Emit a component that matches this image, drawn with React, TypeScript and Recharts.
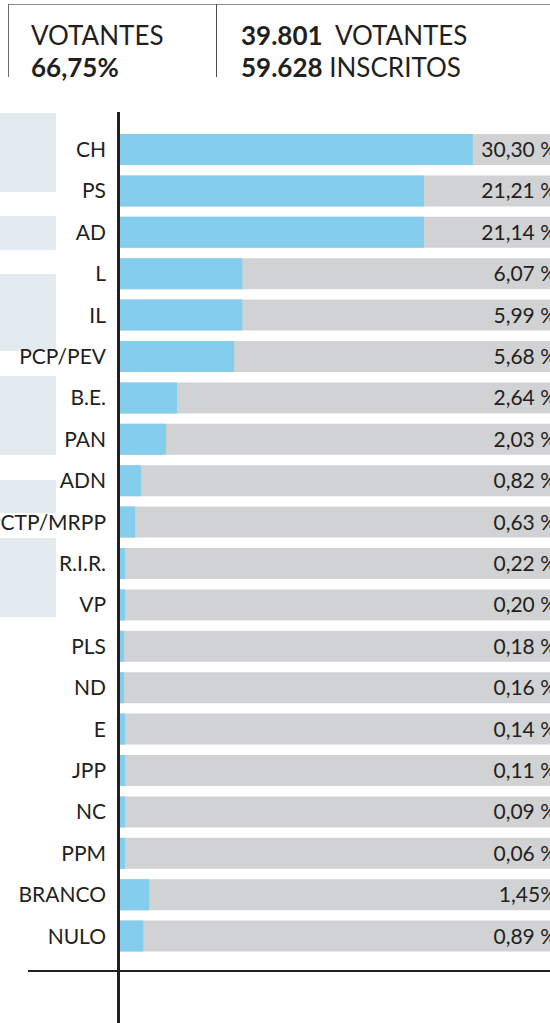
import React from 'react';
import { BarChart, Bar, XAxis, YAxis, LabelList } from 'recharts';

// Party names (category axis)
const partidos = [
  'CH', 'PS', 'AD', 'L', 'IL', 'PCP/PEV', 'B.E.', 'PAN', 'ADN', 'PCTP/MRPP',
  'R.I.R.', 'VP', 'PLS', 'ND', 'E', 'JPP', 'NC', 'PPM', 'BRANCO', 'NULO',
];

// Displayed percentage labels
const rotulos = [
  '30,30 %', '21,21 %', '21,14 %', '6,07 %', '5,99 %', '5,68 %', '2,64 %', '2,03 %', '0,82 %', '0,63 %',
  '0,22 %', '0,20 %', '0,18 %', '0,16 %', '0,14 %', '0,11 %', '0,09 %', '0,06 %', '1,45%', '0,89 %',
];

// Blue bar lengths as drawn (same units as the CH share)
const barras = [
  30.3, 26.1, 26.1, 10.5, 10.5, 9.8, 4.9, 3.95, 1.8, 1.3,
  0.43, 0.43, 0.35, 0.35, 0.43, 0.43, 0.43, 0.43, 2.5, 2.0,
];

const data = partidos.map((p, i) => ({ partido: p, barra: barras[i], rotulo: rotulos[i] }));

const INK = '#231f20';
const FONT = 'Lato, "Open Sans", sans-serif';

const CatTick = (props: any) => {
  const { x, y, payload } = props;
  return (
    <text x={x} y={y} dy="0.35em" textAnchor="end" fill={INK} fontSize={21} fontFamily={FONT}>
      {payload.value}
    </text>
  );
};

const ValueLabel = (props: any) => {
  const { y, height, value } = props;
  return (
    <text x={557} y={y + height / 2} dy="0.36em" textAnchor="end" fill={INK} fontSize={21} fontFamily={FONT}>
      {value}
    </text>
  );
};

const sideBoxes = [
  [113, 192], [216, 250], [274, 351], [376, 455], [480, 513], [538, 617],
];

export default function App() {
  return (
    <div style={{ position: 'absolute', left: 0, top: 0, width: 550, height: 1023, overflow: 'hidden', background: '#fff', fontFamily: FONT, color: INK }}>
      {/* header */}
      <div style={{ position: 'absolute', left: 8, top: 4, width: 560, height: 0, borderTop: '1.5px solid #8a8a8a' }} />
      <div style={{ position: 'absolute', left: 8, top: 4, width: 0, height: 73, borderLeft: '1.5px solid #6a6a6a' }} />
      <div style={{ position: 'absolute', left: 216, top: 4, width: 0, height: 73, borderLeft: '1.5px solid #4a4a4a' }} />
      <div style={{ position: 'absolute', left: 31, top: 20, fontSize: 26, lineHeight: '31px', whiteSpace: 'nowrap' }}>VOTANTES</div>
      <div style={{ position: 'absolute', left: 31, top: 52, fontSize: 26, lineHeight: '31px', fontWeight: 700, whiteSpace: 'nowrap' }}>66,75%</div>
      <div style={{ position: 'absolute', left: 241, top: 20, fontSize: 26, lineHeight: '31px', whiteSpace: 'nowrap' }}>
        <span style={{ fontWeight: 700 }}>39.801</span>&nbsp; VOTANTES
      </div>
      <div style={{ position: 'absolute', left: 241, top: 52, fontSize: 26, lineHeight: '31px', whiteSpace: 'nowrap' }}>
        <span style={{ fontWeight: 700 }}>59.628</span> INSCRITOS
      </div>

      {/* decorative side boxes */}
      {sideBoxes.map(([t, b], i) => (
        <div key={i} style={{ position: 'absolute', left: 0, top: t, width: 56, height: b - t, background: '#e3ebf1' }} />
      ))}

      <div style={{ position: 'absolute', left: 0, top: 0 }}>
        <BarChart
          width={580}
          height={1023}
          data={data}
          layout="vertical"
          margin={{ top: 129, right: 0, bottom: 66, left: 0 }}
          barSize={31}
        >
          <XAxis type="number" domain={[0, 39.5]} hide />
          <YAxis
            type="category"
            dataKey="partido"
            width={120}
            axisLine={false}
            tickLine={false}
            tickMargin={8}
            interval={0}
            tick={<CatTick />}
          />
          <Bar dataKey="barra" fill="#85cdec" background={{ fill: '#d1d2d4' }} isAnimationActive={false}>
            <LabelList dataKey="rotulo" content={<ValueLabel />} />
          </Bar>
        </BarChart>
      </div>

      {/* axis lines */}
      <div style={{ position: 'absolute', left: 117, top: 112, width: 2.5, height: 920, background: INK }} />
      <div style={{ position: 'absolute', left: 28, top: 970, width: 540, height: 2, background: INK }} />
    </div>
  );
}
